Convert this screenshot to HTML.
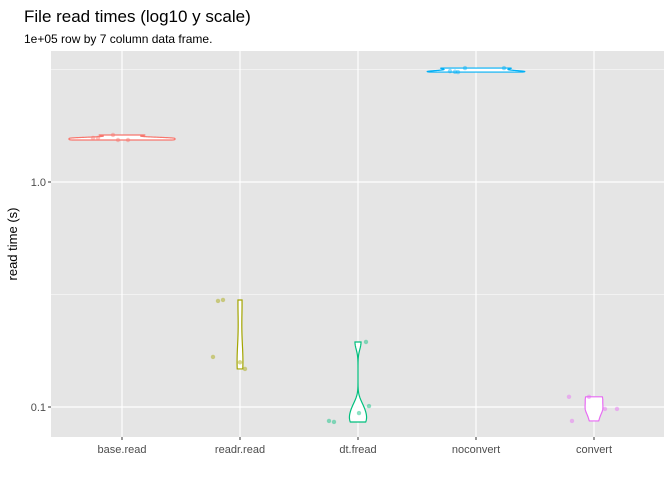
<!DOCTYPE html>
<html><head><meta charset="utf-8"><style>
body{margin:0;background:#fff;}
svg text{font-family:"Liberation Sans",Arial,sans-serif;}
</style></head><body>
<svg id="chart" width="672" height="480" xmlns="http://www.w3.org/2000/svg">
<rect width="672" height="480" fill="#fff"/>
<text x="24" y="22" font-size="17" fill="#000">File read times (log10 y scale)</text>
<text x="24" y="43" font-size="12" fill="#000">1e+05 row by 7 column data frame.</text>
<rect x="51" y="51" width="613" height="386" fill="#e5e5e5"/>
<g id="grid"></g>
<g id="marks"></g>
<g id="axes"></g>
<text transform="translate(17,244) rotate(-90)" text-anchor="middle" font-size="13" fill="#000">read time (s)</text>
</svg>
<script>
const categories = ["base.read","readr.read","dt.fread","noconvert","convert"];
const colors = ["#F8766D","#A3A500","#00BF7D","#00B0F6","#E76BF3"];
const baseRead = [1.569,1.569,1.618,1.537,1.537];
const readrRead = [0.296,0.299,0.167,0.158,0.1476];
const dtFread = [0.0867,0.0858,0.1945,0.094,0.101];
const noConvert = [3.11,3.08,3.21,3.21,3.09];
const convertVals = [0.111,0.0867,0.111,0.098,0.098];
const jitter = [[-29,-24,-9,-4,6],[-22,-17,-27,0,5],[-29,-24,8,1,11],[-26,-18,-11,28,-21],[-25,-22,-5,11,23]];
const yTicks = [0.1,1.0];
const yTickLabels = ["0.1","1.0"];
const yMinor = [0.316227766,3.16227766];
const series = [baseRead,readrRead,dtFread,noConvert,convertVals];

const NS="http://www.w3.org/2000/svg";
const X0=51,X1=664,Y0=51,Y1=437;
function xScale(i){return 122+i*118;}
function yScale(v){return 182-225*Math.log10(v);}
function mk(tag,attrs,parent){const e=document.createElementNS(NS,tag);for(const k in attrs)e.setAttribute(k,attrs[k]);parent.appendChild(e);return e;}
const grid=document.getElementById('grid'),marks=document.getElementById('marks'),axes=document.getElementById('axes');
yMinor.forEach(v=>{const l=mk('line',{x1:X0,x2:X1,y1:yScale(v),y2:yScale(v),stroke:'#fff','stroke-width':0.6},grid);

});
yTicks.forEach((v,i)=>{const y=yScale(v);
const l=mk('line',{x1:X0,x2:X1,y1:y,y2:y,stroke:'#fff','stroke-width':1.2},grid);


const t=mk('line',{x1:X0-3,x2:X0,y1:y,y2:y,stroke:'#333','stroke-width':1},axes);


const tx=mk('text',{x:X0-5,y:y+4,'text-anchor':'end','font-size':11,fill:'#4d4d4d'},axes);tx.textContent=yTickLabels[i];

});
categories.forEach((c,i)=>{const x=xScale(i);
const l=mk('line',{x1:x,x2:x,y1:Y0,y2:Y1,stroke:'#fff','stroke-width':1.2},grid);


const t=mk('line',{x1:x,x2:x,y1:Y1,y2:Y1+3,stroke:'#333','stroke-width':1},axes);


const tx=mk('text',{x:x,y:Y1+16,'text-anchor':'middle','font-size':11,fill:'#4d4d4d'},axes);tx.textContent=c;

});
// KDE violins
function sd(a){const m=a.reduce((s,v)=>s+v,0)/a.length;return Math.sqrt(a.reduce((s,v)=>s+(v-m)*(v-m),0)/(a.length-1));}
function quant(a,p){const s=[...a].sort((x,y)=>x-y);const h=(s.length-1)*p;const lo=Math.floor(h);return s[lo]+(s[Math.min(lo+1,s.length-1)]-s[lo])*(h-lo);}
const dens=series.map(vals=>{const lv=vals.map(Math.log10);const iqr=quant(lv,0.75)-quant(lv,0.25);
let bw=0.9*Math.min(sd(lv),iqr>0?iqr/1.34:sd(lv))*Math.pow(lv.length,-0.2);if(!(bw>0))bw=sd(lv)||0.01;
const mn=Math.min(...lv),mx=Math.max(...lv);const pts=[];
for(let k=0;k<=100;k++){const t=mn+(mx-mn)*k/100;let d=0;lv.forEach(v=>{d+=Math.exp(-0.5*((t-v)/bw)**2)});d/=lv.length*bw*Math.sqrt(2*Math.PI);pts.push([t,d]);}
return pts;});
const gmax=Math.max(...dens.map(p=>Math.max(...p.map(q=>q[1]))));
dens.forEach((pts,i)=>{const x=xScale(i);const right=pts.map(p=>[x+53*p[1]/gmax,yScale(Math.pow(10,p[0]))]);
const left=pts.slice().reverse().map(p=>[x-53*p[1]/gmax,yScale(Math.pow(10,p[0]))]);
const d='M'+right.concat(left).map(p=>p[0].toFixed(2)+','+p[1].toFixed(2)).join('L')+'Z';
const v=mk('path',{d:d,fill:'#fff',stroke:colors[i],'stroke-width':1.2},marks);

});
series.forEach((vals,i)=>{vals.forEach((v,j)=>{const c=mk('circle',{cx:xScale(i)+jitter[i][j],cy:yScale(v),r:2.2,fill:colors[i],'fill-opacity':0.45},marks);

});});
</script>
</body></html>
